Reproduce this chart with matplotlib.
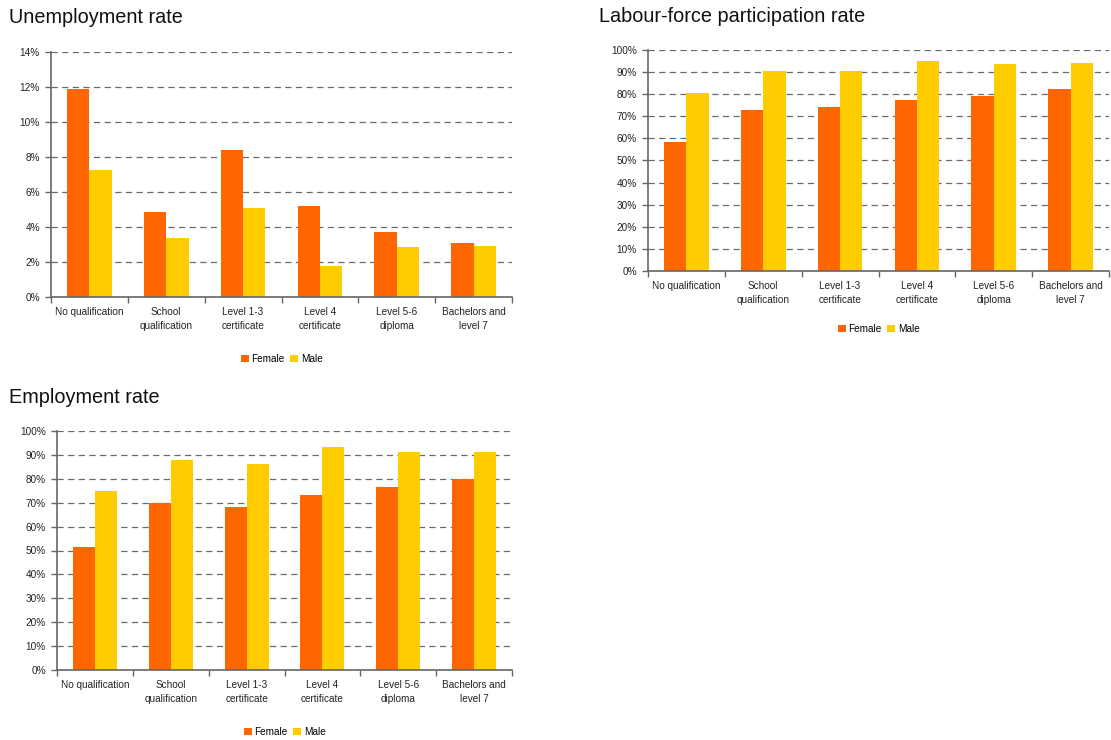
import matplotlib.pyplot as plt
import numpy as np
from matplotlib.ticker import FuncFormatter

plt.rcParams['font.family'] = ['Liberation Sans', 'DejaVu Sans']

categories = ['No qualification', 'School\nqualification', 'Level 1-3\ncertificate',
              'Level 4\ncertificate', 'Level 5-6\ndiploma', 'Bachelors and\nlevel 7']

unemp_female = [11.9, 4.85, 8.4, 5.2, 3.7, 3.1]
unemp_male = [7.25, 3.35, 5.1, 1.75, 2.85, 2.9]

lfp_female = [58.4, 72.9, 74.2, 77.4, 79.2, 82.4]
lfp_male = [80.6, 90.5, 90.5, 95.0, 93.7, 94.1]

emp_female = [51.3, 69.9, 68.2, 73.2, 76.6, 79.9]
emp_male = [74.9, 87.9, 86.2, 93.3, 91.2, 91.2]

ORANGE = '#FF6600'
YELLOW = '#FFCC00'

W, H = 1111, 740
fig = plt.figure(figsize=(W / 100, H / 100), dpi=100)


def px_axes(x0, y0, x1, y1):
    # pixel box (top-left origin) -> figure fraction
    return fig.add_axes([x0 / W, 1 - y1 / H, (x1 - x0) / W, (y1 - y0) / H])


def draw(ax, female, male, ymax, step, title, title_xy, legend_y):
    x = np.arange(len(categories))
    bw = 0.29
    ax.bar(x - bw / 2, female, bw, color=ORANGE, label='Female', zorder=3)
    ax.bar(x + bw / 2, male, bw, color=YELLOW, label='Male', zorder=3)
    ax.set_xlim(-0.5, len(categories) - 0.5)
    ax.set_ylim(0, ymax)
    ax.set_yticks(np.arange(0, ymax + step / 2, step))
    ax.yaxis.set_major_formatter(FuncFormatter(lambda v, p: f'{v:.0f}%'))
    ax.set_xticks(np.arange(-0.5, len(categories), 1.0))
    ax.set_xticklabels([])
    ax.set_xticks(x, minor=True)
    ax.set_xticklabels(categories, minor=True, fontsize=7.2, color='#222222',
                       linespacing=1.5)
    ax.tick_params(axis='x', which='minor', length=0, pad=7)
    ax.tick_params(axis='x', which='major', length=4, color='#666666', width=1)
    ax.tick_params(axis='y', length=4, color='#666666', width=1, labelsize=7.2,
                   labelcolor='#222222', pad=4)
    ax.grid(axis='y', color='#6a6a6a', linestyle=(0, (5, 3.5)), linewidth=0.9, zorder=1)
    for s in ['top', 'right']:
        ax.spines[s].set_visible(False)
    for s in ['left', 'bottom']:
        ax.spines[s].set_color('#666666')
        ax.spines[s].set_linewidth(1.2)
        ax.spines[s].set_zorder(4)
    fig.text(title_xy[0] / W, 1 - title_xy[1] / H, title, fontsize=14.3,
             color='#111111', va='baseline', ha='left')
    box = ax.get_position()
    ax.legend(loc='center', bbox_to_anchor=((box.x0 + box.x1) / 2, 1 - legend_y / H),
              bbox_transform=fig.transFigure, ncol=2, frameon=False, fontsize=7.2,
              handlelength=0.8, handleheight=0.8, handletextpad=0.3, columnspacing=0.5)


ax1 = px_axes(51, 52, 512, 297)
draw(ax1, unemp_female, unemp_male, 14, 2, 'Unemployment rate', (9, 23), 359)

ax2 = px_axes(648, 50, 1109, 271)
draw(ax2, lfp_female, lfp_male, 100, 10, 'Labour-force participation rate', (599, 22), 329)

ax3 = px_axes(57, 431, 512, 670)
draw(ax3, emp_female, emp_male, 100, 10, 'Employment rate', (9, 403), 732)

fig.savefig('out.png', dpi=100)
